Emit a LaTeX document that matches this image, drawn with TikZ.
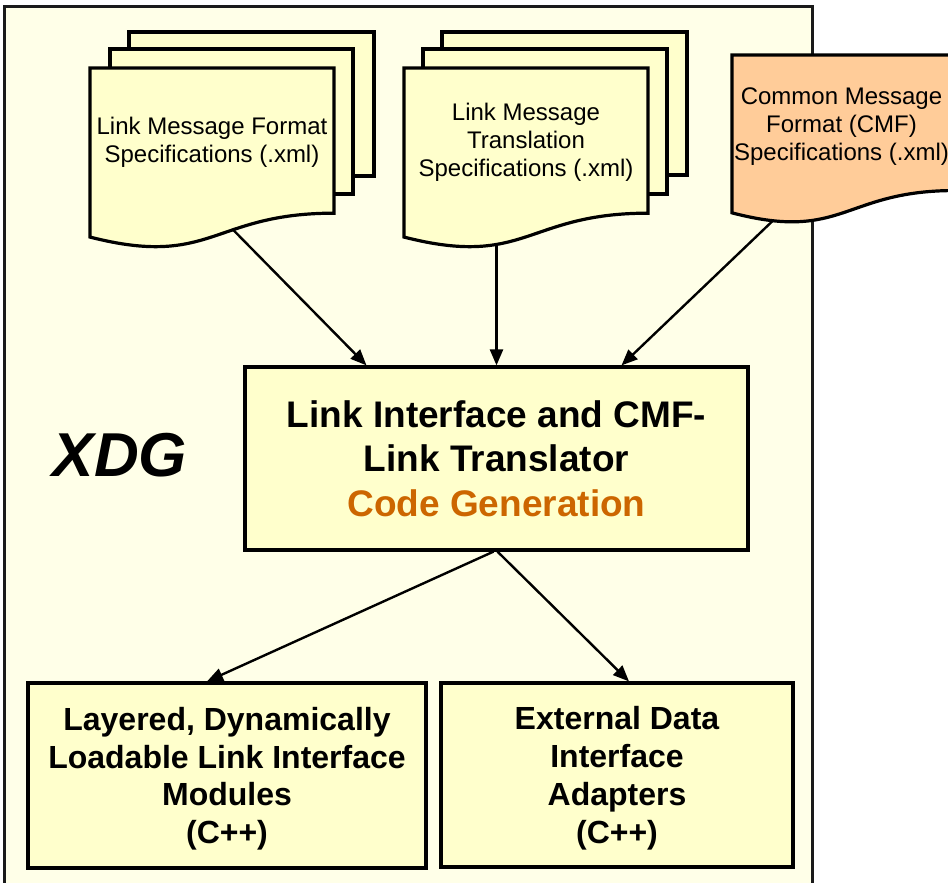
\documentclass[tikz,border=0pt]{standalone}
\usepackage{fontspec}
\setmainfont{Liberation Sans}
\usetikzlibrary{arrows.meta,calc}

\definecolor{paper}{HTML}{FFFFE8}
\definecolor{sheet}{HTML}{FFFFCC}
\definecolor{peach}{HTML}{FFCC99}
\definecolor{codeorange}{HTML}{CC6600}
\definecolor{framegray}{HTML}{1A1A1A}

% document page with a wavy bottom edge: left, top, right, height, fill
\newcommand\docpage[5]{%
  \filldraw[sheetline, fill=#5] (#1,#2) -- (#3,#2) -- (#3,{#2+0.802*#4})
    .. controls ({(#1+#3)/2},{#2+0.802*#4}) and ({(#1+#3)/2},{#2+1.107*#4})
    .. (#1,{#2+0.934*#4}) -- cycle;}

\begin{document}
\begin{tikzpicture}[x=1pt,y=-1pt,
  sheetline/.style={draw=black, line width=3.2pt, line join=miter},
  backsheet/.style={sheetline, fill=sheet},
  doctext/.style={font=\fontsize{24}{28}\selectfont, align=center, inner sep=0pt},
  procbox/.style={draw=black, line width=3.2pt, fill=sheet, align=center, inner sep=0pt},
  flow/.style={line width=2.4pt, -{Triangle[length=16pt,width=13pt]}}]

\useasboundingbox (0,0) rectangle (948,883);
\clip (0,0) rectangle (948,883);
\fill[white] (0,0) rectangle (948,883);

% XDG tool frame
\filldraw[fill=paper, draw=framegray, line width=3pt] (4.5,6.5) rectangle (812,900);

% link message format specifications (stack of pages)
\filldraw[backsheet] (129,32) rectangle (374,176);
\filldraw[backsheet] (110,49) rectangle (353,194);
\docpage{90}{68}{334}{181}{sheet}
\node[doctext] (fmt) at (212,142.5) {Link Message Format\\Specifications (.xml)};

% link message translation specifications (stack of pages)
\filldraw[backsheet] (442,32) rectangle (687,175);
\filldraw[backsheet] (423,49) rectangle (667,194);
\docpage{404}{68}{648}{181}{sheet}
\node[doctext] (trans) at (526,142) {Link Message\\Translation\\Specifications (.xml)};

% common message format specifications
\docpage{732}{55}{955}{169}{peach}
\node[doctext] (cmf) at (841.5,127) {Common Message\\Format (CMF)\\Specifications (.xml)};

% lower edges of the pages where the inputs leave
\coordinate (fmtfoot) at (233,229.7);
\coordinate (transfoot) at (496.5,244.6);
\coordinate (cmffoot) at (773,220.6);

% tool label
\node[font=\bfseries\itshape\fontsize{62}{70}\selectfont, anchor=base, inner sep=0pt] (xdg) at (120,476) {XDG};

% code generator
\node[procbox, minimum width=503pt, minimum height=183pt,
      font=\bfseries\fontsize{37}{44.5}\selectfont] (gen) at (496.5,458.5)
  {Link Interface and CMF-\\Link Translator\\\textcolor{codeorange}{Code Generation}};

% generated outputs
\node[procbox, minimum width=398pt, minimum height=185pt, text depth=0pt,
      font=\bfseries\fontsize{32}{37.5}\selectfont] (lbox) at (227,775.5)
  {Layered, Dynamically\\Loadable Link Interface\\Modules\\(C++)};
\node[procbox, minimum width=352pt, minimum height=184pt, text depth=0pt,
      font=\bfseries\fontsize{32}{38}\selectfont] (rbox) at (617,775)
  {External Data\\Interface\\Adapters\\(C++)};

% inputs to the generator
\draw[flow] (fmtfoot) -- ([xshift=-130pt]gen.north);
\draw[flow] (transfoot) -- (gen.north);
\draw[flow] (cmffoot) -- ([xshift=125pt]gen.north);

% generator outputs
\draw[flow] ([xshift=-3pt]gen.south) -- ([xshift=-20pt]lbox.north);
\draw[flow] ([xshift=1pt]gen.south) -- ([xshift=12pt]rbox.north);

\end{tikzpicture}
\end{document}
